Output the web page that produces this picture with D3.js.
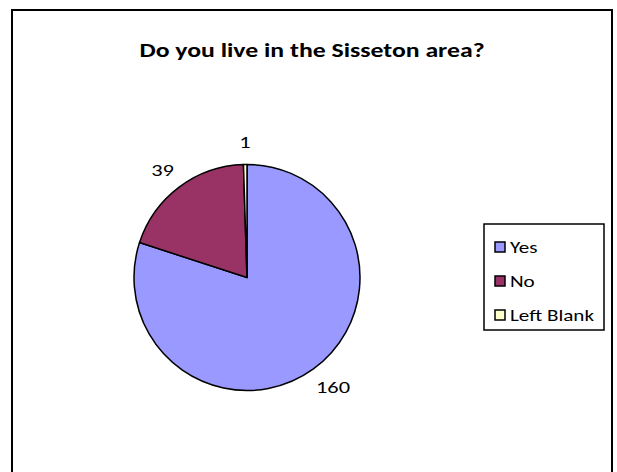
<!DOCTYPE html>
<html>
<head>
<meta charset="utf-8">
<script src="https://cdn.jsdelivr.net/npm/d3@7"></script>
<style>
  html, body { margin: 0; padding: 0; background: #fff; }
  svg { display: block; }
  text { font-family: Carlito, Calibri, Lato, "Liberation Sans", sans-serif; fill: #000; }
</style>
</head>
<body>
<svg id="chart" width="617" height="472"></svg>
<script>
const title = "Do you live in the Sisseton area?";
const categories = ["Yes", "No", "Left Blank"];
const values = [160, 39, 1];
const colors = ["#9999FF", "#993366", "#FFFFCC"];

const svg = d3.select("#chart");
const SX = 1.32; // horizontal stretch of the reference's lettering

// Chart area border (bottom edge falls outside the picture)
svg.append("rect")
  .attr("x", 12).attr("y", 10)
  .attr("width", 600).attr("height", 480)
  .attr("fill", "#fff").attr("stroke", "#000").attr("stroke-width", 2);

svg.append("text")
  .attr("transform", `translate(312,57) scale(${SX},1)`)
  .attr("text-anchor", "middle")
  .style("font-weight", "bold")
  .style("font-size", "19.5px")
  .text(title);

const data = categories.map((c, i) => ({ name: c, value: values[i], color: colors[i] }));
const pie = d3.pie().sort(null).value(d => d.value).startAngle(0).endAngle(2 * Math.PI);
const arcs = pie(data);
const R = 113;
const cx = 247, cy = 277.5;
const arc = d3.arc().innerRadius(0).outerRadius(R);

const g = svg.append("g").attr("transform", `translate(${cx},${cy})`);
g.selectAll("path.slice").data(arcs).enter().append("path")
  .attr("class", "slice")
  .attr("d", arc)
  .attr("fill", d => d.data.color)
  .attr("stroke", "#000")
  .attr("stroke-width", 1.5)
  .attr("stroke-linejoin", "round");

// Data labels outside the slices
const labelR = 129;
const capH = 12;
const labels = g.selectAll("text.lbl").data(arcs).enter().append("text")
  .attr("class", "lbl")
  .style("font-size", "17px")
  .attr("text-anchor", "middle")
  .attr("dominant-baseline", "central")
  .text(d => d.data.value);
labels.each(function(d) {
  const a = (d.startAngle + d.endAngle) / 2;
  const bb = this.getBBox();
  const w = bb.width * SX;
  const sx = Math.sin(a), sy = -Math.cos(a);
  const x = sx * labelR + sx * w / 2;
  const y = sy * labelR + sy * capH / 2;
  d3.select(this).attr("transform", `translate(${x},${y}) scale(${SX},1)`);
});

// Legend
const legend = svg.append("g");
legend.append("rect")
  .attr("x", 484).attr("y", 224).attr("width", 120).attr("height", 106)
  .attr("fill", "#fff").attr("stroke", "#000").attr("stroke-width", 1.5);
const ly = d3.scalePoint().domain(categories).range([247, 315]);
const items = legend.selectAll("g.item").data(data).enter().append("g")
  .attr("class", "item")
  .attr("transform", d => `translate(495,${ly(d.name)})`);
items.append("rect")
  .attr("x", 0).attr("y", -5).attr("width", 10).attr("height", 10)
  .attr("fill", d => d.color).attr("stroke", "#000").attr("stroke-width", 1.5);
items.append("text")
  .attr("transform", `translate(15,0) scale(${SX},1)`)
  .attr("dominant-baseline", "central")
  .style("font-size", "16px")
  .text(d => d.name);
</script>
</body>
</html>
